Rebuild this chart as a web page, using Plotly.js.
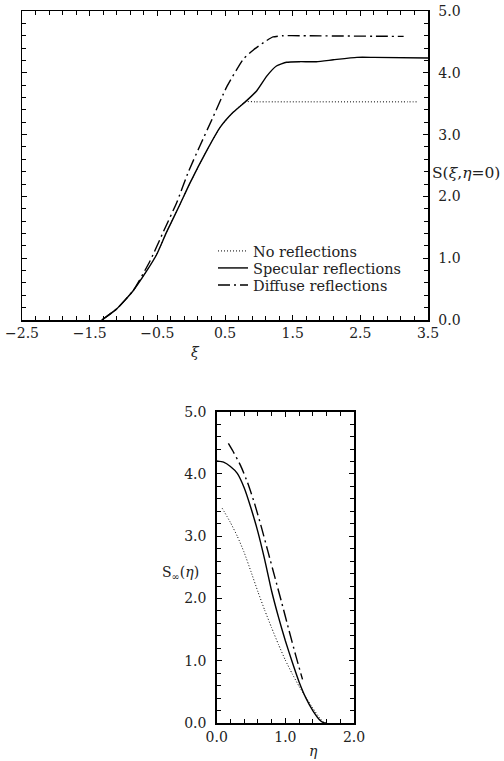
<!DOCTYPE html>
<html>
<head>
<meta charset="utf-8">
<script src="https://cdn.plot.ly/plotly-3.0.1.min.js"></script>
<style>html,body{margin:0;padding:0;background:#fff;}#plot{width:504px;height:761px;}</style>
</head>
<body>
<div id="plot"></div>
<script>
// ---- Top panel: S(xi, eta=0) ----
const xiNone = [-1.32, -1.10, -0.86, -0.66, -0.51, -0.36, -0.17, -0.02, 0.23, 0.43, 0.62, 0.80, 0.95, 3.20, 3.36];
const sNone  = [0, 0.18, 0.47, 0.79, 1.06, 1.43, 1.86, 2.21, 2.74, 3.12, 3.36, 3.53, 3.53, 3.53, 3.53];

const xiSpec = [-1.32, -1.10, -0.86, -0.66, -0.51, -0.36, -0.17, -0.02, 0.23, 0.43, 0.62, 0.82, 0.97, 1.12, 1.26, 1.41, 1.60, 1.85, 2.10, 2.45, 2.70, 3.50];
const sSpec  = [0, 0.18, 0.47, 0.79, 1.06, 1.43, 1.86, 2.21, 2.74, 3.12, 3.36, 3.55, 3.71, 3.95, 4.11, 4.17, 4.18, 4.18, 4.21, 4.25, 4.25, 4.24];

const xiDiff = [-1.32, -1.10, -0.86, -0.61, -0.41, -0.21, -0.04, 0.13, 0.33, 0.52, 0.77, 0.92, 1.07, 1.21, 1.36, 1.60, 3.00, 3.14];
const sDiff  = [0, 0.18, 0.47, 0.95, 1.43, 1.91, 2.40, 2.82, 3.30, 3.76, 4.22, 4.37, 4.49, 4.58, 4.60, 4.60, 4.59, 4.59];

// ---- Bottom panel: S_inf(eta) ----
const etaNone = [0.08, 0.20, 0.30, 0.40, 0.50, 0.60, 0.70, 0.80, 0.90, 1.00, 1.10, 1.20, 1.30, 1.40, 1.50, 1.57];
const sInfNone = [3.45, 3.22, 3.00, 2.74, 2.43, 2.11, 1.81, 1.53, 1.26, 1.01, 0.79, 0.59, 0.41, 0.24, 0.08, 0.0];

const etaSpec = [0, 0.10, 0.20, 0.30, 0.40, 0.50, 0.60, 0.70, 0.80, 0.90, 1.00, 1.10, 1.20, 1.30, 1.40, 1.50, 1.57, 1.60];
const sInfSpec = [4.21, 4.19, 4.12, 4.01, 3.78, 3.45, 3.07, 2.62, 2.12, 1.70, 1.32, 0.98, 0.66, 0.40, 0.20, 0.05, 0.0, 0.0];

const etaDiff = [0.17, 0.25, 0.35, 0.45, 0.55, 0.65, 0.75, 0.85, 0.95, 1.05, 1.15, 1.25];
const sInfDiff = [4.49, 4.34, 4.13, 3.86, 3.53, 3.15, 2.74, 2.33, 1.92, 1.50, 1.09, 0.70];

const seriesNames = ["No reflections", "Specular reflections", "Diffuse reflections"];
const topTicks = [-2.5, -1.5, -0.5, 0.5, 1.5, 2.5, 3.5];
const yTicks = [0, 1, 2, 3, 4, 5];
const bottomTicks = [0, 1, 2];

const FONT = "DejaVu Serif";
const dotStyle = {color: "#000", width: 1, dash: "1px,2px"};
const solidStyle = {color: "#000", width: 1.4};
const dashDotStyle = {color: "#000", width: 1.4, dash: "12px,4px,2px,4px"};
const SM = {shape: "spline", smoothing: 0.5};

const traces = [
  {x: xiNone, y: sNone, name: seriesNames[0], legend: "legend", mode: "lines", line: Object.assign({}, SM, dotStyle), xaxis: "x", yaxis: "y"},
  {x: xiSpec, y: sSpec, name: seriesNames[1], legend: "legend2", mode: "lines", line: Object.assign({}, SM, solidStyle), xaxis: "x", yaxis: "y"},
  {x: xiDiff, y: sDiff, name: seriesNames[2], legend: "legend3", mode: "lines", line: Object.assign({}, SM, dashDotStyle), xaxis: "x", yaxis: "y"},
  {x: etaNone, y: sInfNone, name: seriesNames[0], mode: "lines", showlegend: false, line: Object.assign({}, SM, dotStyle), xaxis: "x2", yaxis: "y2"},
  {x: etaSpec, y: sInfSpec, name: seriesNames[1], mode: "lines", showlegend: false, line: Object.assign({}, SM, solidStyle), xaxis: "x2", yaxis: "y2"},
  {x: etaDiff, y: sInfDiff, name: seriesNames[2], mode: "lines", showlegend: false, line: Object.assign({}, SM, dashDotStyle), xaxis: "x2", yaxis: "y2"}
];

function axisBase(tick0) {
  return {
    showgrid: false, zeroline: false,
    showline: true, linecolor: "#000", linewidth: 1.5, mirror: "ticks",
    ticks: "inside", ticklen: 5, tickwidth: 1, tickcolor: "#000",
    tickmode: "array", tickformat: ".1f",
    tickfont: {family: FONT, size: 14, color: "#222"},
    minor: {ticks: "inside", ticklen: 4, tickwidth: 1, tickcolor: "#000", dtick: 0.2, tick0: tick0, showgrid: false},
    fixedrange: true, automargin: false
  };
}

const W = 504, H = 761;
function legendAt(rowY) {
  return {
    x: 213 / W, y: 1 - rowY / H, xanchor: "left", yanchor: "middle",
    bgcolor: "rgba(0,0,0,0)", borderwidth: 0,
    font: {family: FONT, size: 14.5, color: "#222"},
    itemwidth: 30
  };
}

const layout = {
  width: W, height: H,
  margin: {l: 0, r: 0, t: 0, b: 0},
  paper_bgcolor: "#fff", plot_bgcolor: "#fff",
  showlegend: true,
  legend: legendAt(251),
  legend2: legendAt(268),
  legend3: legendAt(285),
  xaxis: Object.assign(axisBase(-2.5), {
    domain: [22 / W, 428 / W], anchor: "y", range: [-2.5, 3.5],
    tickvals: topTicks, ticklabelstandoff: 0
  }),
  yaxis: Object.assign(axisBase(0), {
    domain: [1 - 320 / H, 1 - 11 / H], anchor: "x", side: "right", range: [0, 5],
    tickvals: yTicks, ticklabelstandoff: 6
  }),
  xaxis2: Object.assign(axisBase(0), {
    domain: [216.7 / W, 354 / W], anchor: "y2", range: [0, 2],
    tickvals: bottomTicks, ticklabelstandoff: 1
  }),
  yaxis2: Object.assign(axisBase(0), {
    domain: [1 - 723 / H, 1 - 411.7 / H], anchor: "x2", range: [0, 5],
    tickvals: yTicks, ticklabelstandoff: 6
  }),
  annotations: [
    {text: "S(<i>ξ</i>,<i>η</i>=0)", xref: "paper", yref: "paper", x: 430 / W, y: 1 - 173 / H, xanchor: "left", yanchor: "middle", showarrow: false, font: {family: FONT, size: 15.5, color: "#222"}},
    {text: "<i>ξ</i>", xref: "paper", yref: "paper", x: 195 / W, y: 1 - 352 / H, xanchor: "center", yanchor: "middle", showarrow: false, font: {family: FONT, size: 14, color: "#222"}},
    {text: "S<sub>∞</sub>(<i>η</i>)", xref: "paper", yref: "paper", x: 180 / W, y: 1 - 573 / H, xanchor: "center", yanchor: "middle", showarrow: false, font: {family: FONT, size: 14, color: "#222"}},
    {text: "<i>η</i>", xref: "paper", yref: "paper", x: 313 / W, y: 1 - 751 / H, xanchor: "center", yanchor: "middle", showarrow: false, font: {family: FONT, size: 14, color: "#222"}}
  ]
};

Plotly.newPlot("plot", traces, layout, {staticPlot: true, displayModeBar: false});
</script>
</body>
</html>
